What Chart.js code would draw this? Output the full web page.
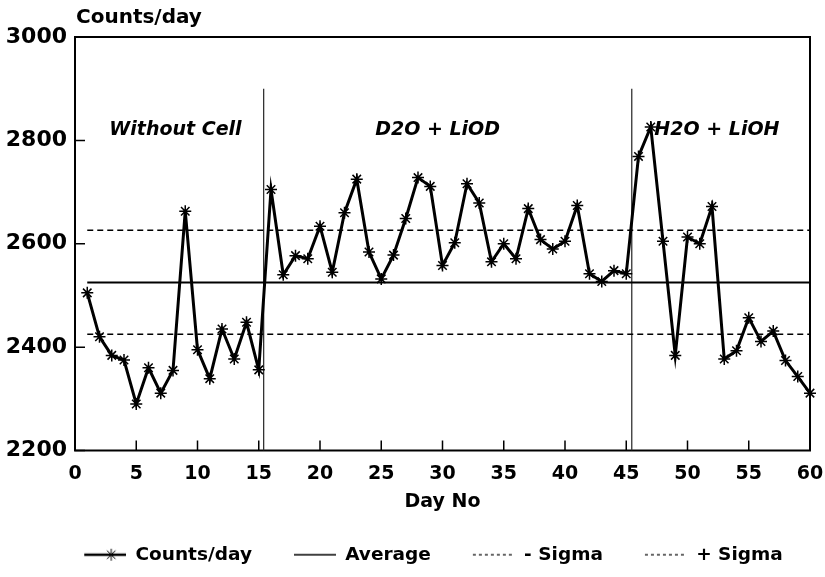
<!DOCTYPE html>
<html>
<head>
<meta charset="utf-8">
<script src="https://cdn.jsdelivr.net/npm/chart.js@4.4.1/dist/chart.umd.min.js"></script>
<style>
    html, body { margin: 0; padding: 0; background: #fff; }
    #wrap { width: 825px; height: 577px; }
</style>
</head>
<body>
<div id="wrap"><canvas id="chart"></canvas></div>
<script>
// Daily counts
const days = [1, 2, 3, 4, 5, 6, 7, 8, 9, 10, 11, 12, 13, 14, 15, 16, 17, 18, 19, 20,
    21, 22, 23, 24, 25, 26, 27, 28, 29, 30, 31, 32, 33, 34, 35, 36, 37, 38, 39, 40,
    41, 42, 43, 44, 45, 46, 47, 48, 49, 50, 51, 52, 53, 54, 55, 56, 57, 58, 59, 60];
const counts = [2505, 2420, 2384, 2375, 2290, 2360, 2311, 2355, 2663, 2395,
    2339, 2435, 2377, 2448, 2356, 2705, 2540, 2577, 2571, 2634,
    2545, 2660, 2725, 2584, 2532, 2578, 2649, 2728, 2711, 2558,
    2602, 2716, 2679, 2565, 2600, 2571, 2668, 2608, 2590, 2605,
    2674, 2542, 2527, 2548, 2542, 2769, 2826, 2605, 2384, 2613,
    2600, 2672, 2377, 2393, 2457, 2411, 2431, 2374, 2343, 2311];

// reference lines (start/end day)
const lineDays = [1, 60];
const averageLine = [2525, 2525];
const minusSigma = [2425, 2425];
const plusSigma = [2626, 2626];

// phase boundaries
const boundaryDays = [15.4, 45.45];
const boundaryRange = [2200, 2900];

const phaseNames = ['Without Cell', 'D2O + LiOD', 'H2O + LiOH'];
const phaseCenters = [8.2, 29.6, 52.4];
const phaseLevel = 2820;

const legendNames = ['Counts/day', 'Average', '- Sigma', '+ Sigma'];
const xTicks = [0, 5, 10, 15, 20, 25, 30, 35, 40, 45, 50, 55, 60];
const yTicks = [2200, 2400, 2600, 2800, 3000];

const FONT = 'DejaVu Sans';
Chart.defaults.font.family = FONT;
Chart.defaults.color = '#000';

const toPoints = (xs, ys) => xs.map((d, i) => ({ x: d, y: ys[i] }));

// legend icons: transparent left pad + sample of the line
const ICON_W = 84, ICON_PAD = 42;
const makeIcon = (kind) => {
    const c = document.createElement('canvas');
    c.width = ICON_W;
    c.height = 20;
    const g = c.getContext('2d');
    g.strokeStyle = '#000';
    g.beginPath();
    if (kind === 'counts') {
        g.lineWidth = 2.5;
        g.moveTo(ICON_PAD, 10); g.lineTo(ICON_W, 10);
        g.stroke();
        g.lineWidth = 1;
        const cx = ICON_PAD + 27, r = 6;
        g.beginPath();
        for (let k = 0; k < 4; k++) {
            const a = k * Math.PI / 4;
            g.moveTo(cx - r * Math.cos(a), 10 - r * Math.sin(a));
            g.lineTo(cx + r * Math.cos(a), 10 + r * Math.sin(a));
        }
        g.stroke();
    } else if (kind === 'avg') {
        g.lineWidth = 1.5;
        g.moveTo(ICON_PAD, 10); g.lineTo(ICON_W, 10);
        g.stroke();
    } else {
        g.lineWidth = 1.2;
        g.setLineDash([3, 3]);
        g.moveTo(ICON_PAD, 10); g.lineTo(ICON_W, 10);
        g.stroke();
    }
    return c;
};
const icons = [makeIcon('counts'), makeIcon('avg'), makeIcon('sigma'), makeIcon('sigma')];

// frame, inward ticks, axis caption and phase labels
const decorations = {
    id: 'decorations',
    beforeDatasetsDraw(chart) {
        const { ctx, chartArea: a, scales: { x, y } } = chart;
        ctx.save();
        ctx.strokeStyle = '#000';
        ctx.lineWidth = 2;
        ctx.strokeRect(a.left, a.top, a.right - a.left, a.bottom - a.top);
        ctx.lineWidth = 1.5;
        ctx.beginPath();
        y.ticks.forEach(t => {
            const py = y.getPixelForValue(t.value);
            ctx.moveTo(a.left, py);
            ctx.lineTo(a.left + 10, py);
        });
        x.ticks.forEach(t => {
            const px = x.getPixelForValue(t.value);
            ctx.moveTo(px, a.bottom);
            ctx.lineTo(px, a.bottom - 10);
        });
        ctx.stroke();
        ctx.restore();
    },
    afterDraw(chart) {
        const { ctx, chartArea: a, scales: { x, y } } = chart;
        ctx.save();
        ctx.fillStyle = '#000';
        ctx.textBaseline = 'middle';
        ctx.textAlign = 'left';
        ctx.font = `bold 20px "${FONT}"`;
        ctx.fillText('Counts/day', a.left + 1, a.top - 19);

        ctx.textAlign = 'center';
        ctx.font = `italic bold 19px "${FONT}"`;
        phaseNames.forEach((name, i) => {
            ctx.fillText(name, x.getPixelForValue(phaseCenters[i]), y.getPixelForValue(phaseLevel));
        });
        ctx.restore();
    }
};

const lineSet = (data, width, dash) => ({
    data,
    borderColor: '#000',
    borderWidth: width,
    borderDash: dash,
    pointRadius: 0,
    fill: false
});

new Chart(document.getElementById('chart'), {
    type: 'line',
    data: {
        datasets: [
            {
                label: 'Counts/day',
                data: toPoints(days, counts),
                borderColor: '#000',
                backgroundColor: '#000',
                borderWidth: 3,
                pointStyle: 'star',
                pointRadius: 6,
                pointBorderWidth: 1.5,
                pointBorderColor: '#000',
                clip: 10,
                tension: 0
            },
            lineSet(toPoints(lineDays, averageLine), 2, []),
            lineSet(toPoints(lineDays, minusSigma), 1.5, [6, 4]),
            lineSet(toPoints(lineDays, plusSigma), 1.5, [6, 4]),
            Object.assign(lineSet(toPoints([boundaryDays[0], boundaryDays[0]], boundaryRange), 1.3, []), { borderColor: '#333' }),
            Object.assign(lineSet(toPoints([boundaryDays[1], boundaryDays[1]], boundaryRange), 1.3, []), { borderColor: '#333' })
        ]
    },
    options: {
        responsive: true,
        maintainAspectRatio: false,
        animation: false,
        layout: { padding: { left: 0, right: 0, top: 37, bottom: 3 } },
        scales: {
            x: {
                type: 'linear',
                min: 0,
                max: 60,
                afterBuildTicks: s => { s.ticks = xTicks.map(v => ({ value: v })); },
                afterFit: s => { s.height = 95; s.paddingRight = 15; },
                grid: { display: false, drawTicks: false },
                border: { display: false },
                ticks: {
                    padding: 12,
                    font: { size: 19, weight: 'bold' },
                    color: '#000',
                    maxRotation: 0,
                    callback: v => String(v)
                },
                title: {
                    display: true,
                    text: 'Day No',
                    font: { size: 19, weight: 'bold' },
                    color: '#000',
                    padding: { top: 0, bottom: 32 }
                }
            },
            y: {
                min: 2200,
                max: 3000,
                afterBuildTicks: s => { s.ticks = yTicks.map(v => ({ value: v })); },
                afterFit: s => { s.width = 75; },
                grid: { display: false, drawTicks: false },
                border: { display: false },
                ticks: {
                    padding: 8,
                    font: { size: 22, weight: 'bold' },
                    color: '#000',
                    callback: v => String(v)
                }
            }
        },
        plugins: {
            tooltip: { enabled: false },
            legend: {
                position: 'bottom',
                labels: {
                    usePointStyle: true,
                    pointStyleWidth: ICON_W,
                    padding: 0,
                    color: '#000',
                    font: { size: 18.5, weight: 'bold' },
                    generateLabels: () => legendNames.map((text, i) => ({
                        text,
                        pointStyle: icons[i],
                        fillStyle: '#000',
                        strokeStyle: '#000',
                        lineWidth: 0,
                        hidden: false,
                        datasetIndex: i
                    }))
                }
            }
        }
    },
    plugins: [decorations]
});
</script>
</body>
</html>
